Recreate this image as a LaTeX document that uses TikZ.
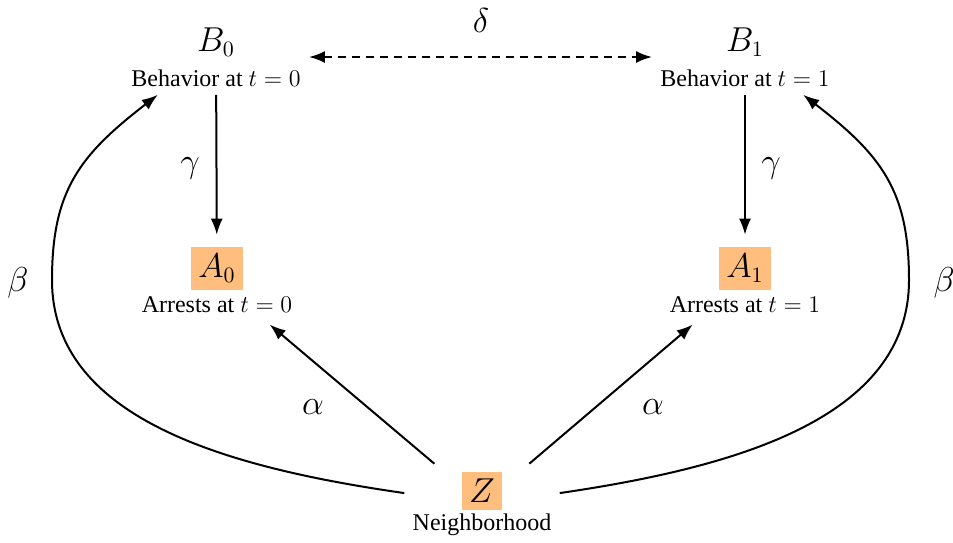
\documentclass[tikz,border=0pt]{standalone}
\usepackage{fontspec}
\setmainfont{Liberation Serif}
\usetikzlibrary{arrows.meta}
\definecolor{boxorange}{RGB}{255,190,125}
\newcommand{\largemath}[1]{{\fontsize{16}{17.5}\selectfont$#1$}}
\newcommand{\obox}[1]{{\setlength{\fboxsep}{3.5pt}\colorbox{boxorange}{\largemath{#1}}}}
\begin{document}
\begin{tikzpicture}[x=0.5pt,y=-0.5pt,
  grp/.style={align=center,font=\fontsize{12}{17.5}\selectfont,inner sep=4pt},
  grpz/.style={align=center,font=\fontsize{12}{14}\selectfont,inner sep=4pt},
  lbl/.style={font=\fontsize{16}{17}\selectfont,inner sep=0pt},
  arr/.style={-{Latex[length=8pt,width=6pt]},line width=1pt},
  darr/.style={{Latex[length=8pt,width=6pt]}-{Latex[length=8pt,width=6pt]},line width=1pt,dash pattern=on 4pt off 3pt}
]
\useasboundingbox (0,0) rectangle (953,542);

\node[grp] (B0) at (216,57) {\largemath{B_0}\\Behavior at $t=0$};
\node[grp] (B1) at (745,57) {\largemath{B_1}\\Behavior at $t=1$};
\node[grp] (A0) at (217,280) {\obox{A_0}\\Arrests at $t=0$};
\node[grp] (A1) at (745,280) {\obox{A_1}\\Arrests at $t=1$};
\node[grpz] (Z) at (482,504) {\obox{Z}\\Neighborhood};

\coordinate (bl) at (52,280);
\coordinate (br) at (909,280);

\draw[darr] (B0) -- (B1);
\draw[arr,shorten >=2pt] (B0) -- (A0);
\draw[arr,shorten >=2pt] (B1) -- (A1);
\draw[arr,shorten >=2.5pt] (Z) -- (A0);
\draw[arr,shorten >=2.5pt] (Z) -- (A1);
\draw[arr] (Z.172) .. controls (230,468) and (52,420) .. (bl)
  .. controls (52,190) and (80,155) .. (B0.213);
\draw[arr] (Z.8) .. controls (731,468) and (909,420) .. (br)
  .. controls (909,190) and (881,155) .. (B1.-33);

\node[lbl] (ld) at (481,20) {$\delta$};
\node[lbl] (lg0) at (190,168) {$\gamma$};
\node[lbl] (lg1) at (771,168) {$\gamma$};
\node[lbl] (la0) at (313,407) {$\alpha$};
\node[lbl] (la1) at (653,407) {$\alpha$};
\node[lbl] (lb0) at (18,283) {$\beta$};
\node[lbl] (lb1) at (944,283) {$\beta$};
\end{tikzpicture}
\end{document}
